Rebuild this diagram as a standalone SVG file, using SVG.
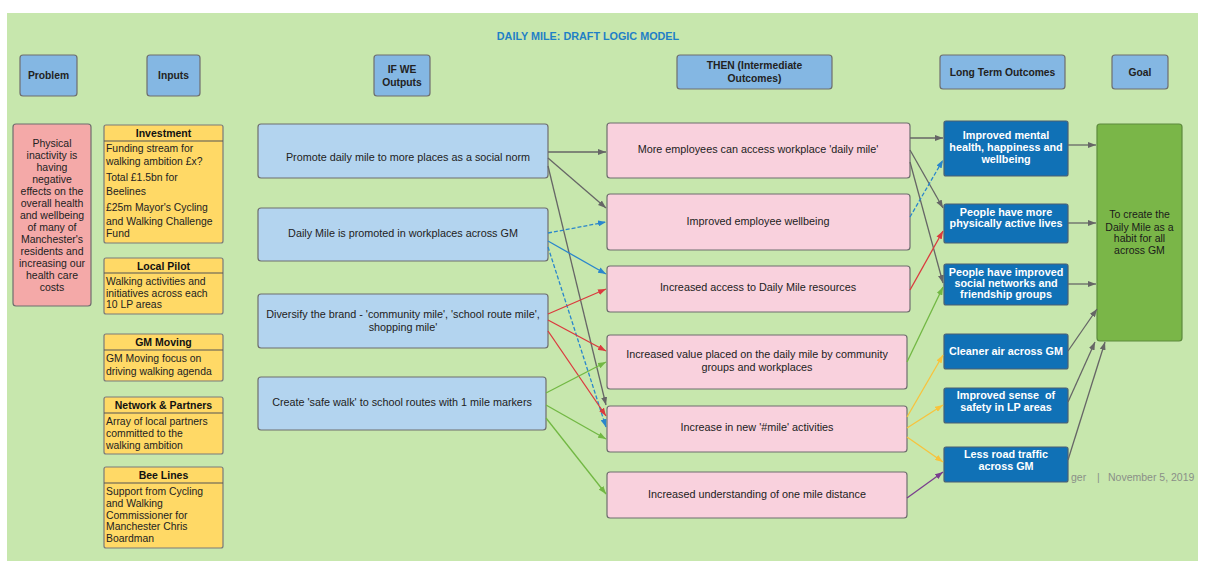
<svg xmlns="http://www.w3.org/2000/svg" width="1205" height="561" viewBox="0 0 1205 561">
<defs>
<style>
text{font-family:"Liberation Sans",Arial,sans-serif;dominant-baseline:central;}
.hdr rect{fill:#84b7e3;stroke:#6e6e6e;stroke-width:1.2;}
.hdr text{font-size:10.3px;font-weight:bold;fill:#222;text-anchor:middle;}
.inp rect{fill:#ffd966;stroke:#7a7a7a;stroke-width:1.2;}
.inp line{stroke:#555;stroke-width:1.2;}
.inp .h{font-size:10.5px;font-weight:bold;fill:#111;text-anchor:middle;}
.inp .b{font-size:10.4px;fill:#222;}
.out rect{fill:#b3d4ef;stroke:#6e6e6e;stroke-width:1.2;}
.mid rect{fill:#f9d1dd;stroke:#6e6e6e;stroke-width:1.2;}
.out text,.mid text{font-size:10.8px;fill:#222;text-anchor:middle;}
.lt rect{fill:#1071b6;stroke:#4a5f73;stroke-width:1.2;}
.lt text{font-size:10.8px;font-weight:bold;fill:#fff;text-anchor:middle;}
.c line{fill:none;stroke-width:1.3;}
.g{stroke:#666;}
.bl{stroke:#2a86cc;}
.rd{stroke:#db3a3e;}
.gr{stroke:#72b843;}
.yl{stroke:#f8c33c;}
.pu{stroke:#7a3e8e;}
.d{stroke-dasharray:4 2;}
</style>
<marker id="ag" markerUnits="userSpaceOnUse" markerWidth="8" markerHeight="6" refX="8" refY="3" orient="auto"><path d="M0,0 L8,3 L0,6 z" fill="#666"/></marker>
<marker id="ab" markerUnits="userSpaceOnUse" markerWidth="8" markerHeight="6" refX="8" refY="3" orient="auto"><path d="M0,0 L8,3 L0,6 z" fill="#2a86cc"/></marker>
<marker id="ar" markerUnits="userSpaceOnUse" markerWidth="8" markerHeight="6" refX="8" refY="3" orient="auto"><path d="M0,0 L8,3 L0,6 z" fill="#db3a3e"/></marker>
<marker id="agr" markerUnits="userSpaceOnUse" markerWidth="8" markerHeight="6" refX="8" refY="3" orient="auto"><path d="M0,0 L8,3 L0,6 z" fill="#72b843"/></marker>
<marker id="ay" markerUnits="userSpaceOnUse" markerWidth="8" markerHeight="6" refX="8" refY="3" orient="auto"><path d="M0,0 L8,3 L0,6 z" fill="#f8c33c"/></marker>
<marker id="ap" markerUnits="userSpaceOnUse" markerWidth="8" markerHeight="6" refX="8" refY="3" orient="auto"><path d="M0,0 L8,3 L0,6 z" fill="#7a3e8e"/></marker>
</defs>
<rect x="0" y="0" width="1205" height="561" fill="#fff"/>
<rect x="7" y="13" width="1191" height="548" fill="#c7e7ad"/>
<text x="588" y="36" text-anchor="middle" font-size="10.8" font-weight="bold" fill="#1f80c6">DAILY MILE: DRAFT LOGIC MODEL</text>

<g id="hdr-problem" class="hdr"><rect x="20" y="55" width="57" height="41" rx="3"/><text x="48.5" y="75.5">Problem</text></g>
<g id="hdr-inputs" class="hdr"><rect x="147" y="55" width="53" height="41" rx="3"/><text x="173.5" y="75.5">Inputs</text></g>
<g id="hdr-outputs" class="hdr"><rect x="374" y="55" width="56" height="41" rx="3"/><text x="402" y="69">IF WE</text><text x="402" y="82">Outputs</text></g>
<g id="hdr-then" class="hdr"><rect x="677" y="55" width="155" height="34" rx="3"/><text x="754.5" y="65">THEN (Intermediate</text><text x="754.5" y="78">Outcomes)</text></g>
<g id="hdr-long" class="hdr"><rect x="940" y="55" width="125" height="34" rx="3"/><text x="1002.5" y="72">Long Term Outcomes</text></g>
<g id="hdr-goal" class="hdr"><rect x="1112" y="55" width="56" height="34" rx="3"/><text x="1140" y="72">Goal</text></g>

<g id="problem"><rect x="13" y="124" width="78" height="182" rx="3" fill="#f4a9a8" stroke="#6e6e6e" stroke-width="1.2"/>
<text font-size="10.5" fill="#222" text-anchor="middle"><tspan x="52" y="143">Physical</tspan><tspan x="52" y="155">inactivity is</tspan><tspan x="52" y="167">having</tspan><tspan x="52" y="179">negative</tspan><tspan x="52" y="191">effects on the</tspan><tspan x="52" y="203">overall health</tspan><tspan x="52" y="215">and wellbeing</tspan><tspan x="52" y="227">of many of</tspan><tspan x="52" y="239">Manchester's</tspan><tspan x="52" y="251">residents and</tspan><tspan x="52" y="263">increasing our</tspan><tspan x="52" y="275">health care</tspan><tspan x="52" y="287">costs</tspan></text></g>

<g id="in-investment" class="inp"><rect x="104" y="125" width="119" height="118" rx="2"/><line x1="104" y1="141" x2="223" y2="141"/><text class="h" x="163.5" y="133">Investment</text>
<text class="b"><tspan x="106" y="148">Funding stream for</tspan><tspan x="106" y="161">walking ambition £x?</tspan><tspan x="106" y="177">Total £1.5bn for</tspan><tspan x="106" y="191">Beelines</tspan><tspan x="106" y="207">£25m Mayor's Cycling</tspan><tspan x="106" y="221">and Walking Challenge</tspan><tspan x="106" y="233">Fund</tspan></text></g>
<g id="in-pilot" class="inp"><rect x="104" y="258" width="119" height="56" rx="2"/><line x1="104" y1="273" x2="223" y2="273"/><text class="h" x="163.5" y="265.5">Local Pilot</text>
<text class="b"><tspan x="106" y="281">Walking activities and</tspan><tspan x="106" y="292.5">initiatives across each</tspan><tspan x="106" y="304">10 LP areas</tspan></text></g>
<g id="in-gmmoving" class="inp"><rect x="104" y="334" width="119" height="47" rx="2"/><line x1="104" y1="350" x2="223" y2="350"/><text class="h" x="163.5" y="342">GM Moving</text>
<text class="b"><tspan x="106" y="358">GM Moving focus on</tspan><tspan x="106" y="371">driving walking agenda</tspan></text></g>
<g id="in-network" class="inp"><rect x="104" y="397" width="119" height="57" rx="2"/><line x1="104" y1="413" x2="223" y2="413"/><text class="h" x="163.5" y="405">Network &amp; Partners</text>
<text class="b"><tspan x="106" y="421">Array of local partners</tspan><tspan x="106" y="433">committed to the</tspan><tspan x="106" y="445">walking ambition</tspan></text></g>
<g id="in-beelines" class="inp"><rect x="104" y="467" width="119" height="81" rx="2"/><line x1="104" y1="483" x2="223" y2="483"/><text class="h" x="163.5" y="475">Bee Lines</text>
<text class="b"><tspan x="106" y="491">Support from Cycling</tspan><tspan x="106" y="503">and Walking</tspan><tspan x="106" y="514.5">Commissioner for</tspan><tspan x="106" y="526">Manchester Chris</tspan><tspan x="106" y="538">Boardman</tspan></text></g>

<g id="out1" class="out"><rect x="258" y="124" width="290" height="54" rx="3"/><text x="408" y="157">Promote daily mile to more places as a social norm</text></g>
<g id="out2" class="out"><rect x="258" y="208" width="290" height="53" rx="3"/><text x="403" y="233">Daily Mile is promoted in workplaces across GM</text></g>
<g id="out3" class="out"><rect x="258" y="294" width="290" height="54" rx="3"/><text x="403" y="314">Diversify the brand - 'community mile', 'school route mile',</text><text x="403" y="327">shopping mile'</text></g>
<g id="out4" class="out"><rect x="258" y="377" width="288" height="53" rx="3"/><text x="402" y="402">Create 'safe walk' to school routes with 1 mile markers</text></g>

<g id="mid1" class="mid"><rect x="607" y="123" width="303" height="55" rx="3"/><text x="758" y="149">More employees can access workplace 'daily mile'</text></g>
<g id="mid2" class="mid"><rect x="607" y="194" width="303" height="56" rx="3"/><text x="758" y="221">Improved employee wellbeing</text></g>
<g id="mid3" class="mid"><rect x="607" y="266" width="303" height="46" rx="3"/><text x="758" y="287">Increased access to Daily Mile resources</text></g>
<g id="mid4" class="mid"><rect x="607" y="335" width="300" height="54" rx="3"/><text x="757" y="354">Increased value placed on the daily mile by community</text><text x="757" y="367">groups and workplaces</text></g>
<g id="mid5" class="mid"><rect x="607" y="406" width="300" height="46" rx="3"/><text x="757" y="427">Increase in new '#mile' activities</text></g>
<g id="mid6" class="mid"><rect x="607" y="472" width="300" height="46" rx="3"/><text x="757" y="494">Increased understanding of one mile distance</text></g>

<text x="1071" y="477" font-size="10.5" fill="#8a9088">ger</text>
<text x="1097" y="477" font-size="10.5" fill="#8a9088">|</text>
<text x="1108" y="477" font-size="10.5" fill="#8a9088">November 5, 2019</text>

<g id="lt1" class="lt"><rect x="944" y="121" width="124" height="55" rx="2"/><text x="1006" y="135">Improved mental</text><text x="1006" y="147">health, happiness and</text><text x="1006" y="158.5">wellbeing</text></g>
<g id="lt2" class="lt"><rect x="944" y="204" width="124" height="39" rx="2"/><text x="1006" y="211.5">People have more</text><text x="1006" y="223">physically active lives</text></g>
<g id="lt3" class="lt"><rect x="944" y="264" width="124" height="41" rx="2"/><text x="1006" y="272">People have improved</text><text x="1006" y="283">social networks and</text><text x="1006" y="294">friendship groups</text></g>
<g id="lt4" class="lt"><rect x="944" y="334" width="124" height="35" rx="2"/><text x="1006" y="351">Cleaner air across GM</text></g>
<g id="lt5" class="lt"><rect x="944" y="388" width="124" height="35" rx="2"/><text x="1006" y="395" xml:space="preserve">Improved sense  of</text><text x="1006" y="407">safety in LP areas</text></g>
<g id="lt6" class="lt"><rect x="944" y="447" width="124" height="35" rx="2"/><text x="1006" y="454">Less road traffic</text><text x="1006" y="466">across GM</text></g>

<g id="goal"><rect x="1097" y="124" width="85" height="217" rx="3" fill="#7ab648" stroke="#5c8a3c" stroke-width="1.2"/>
<text font-size="10.5" fill="#1a1a1a" text-anchor="middle"><tspan x="1139.5" y="214">To create the</tspan><tspan x="1139.5" y="226.5">Daily Mile as a</tspan><tspan x="1139.5" y="238">habit for all</tspan><tspan x="1139.5" y="250">across GM</tspan></text></g>

<g id="connectors" class="c">
<line class="g" x1="548" y1="152" x2="606" y2="152" marker-end="url(#ag)"/>
<line class="g" x1="548" y1="158" x2="606" y2="208" marker-end="url(#ag)"/>
<line class="g" x1="548" y1="166" x2="606" y2="405" marker-end="url(#ag)"/>
<line class="bl d" x1="548" y1="233" x2="606" y2="222" marker-end="url(#ab)"/>
<line class="bl" x1="548" y1="241" x2="606" y2="274" stroke-width="1.8" marker-end="url(#ab)"/>
<line class="bl d" x1="548" y1="247" x2="606" y2="427" marker-end="url(#ab)"/>
<line class="rd" x1="548" y1="314" x2="606" y2="289" marker-end="url(#ar)"/>
<line class="rd" x1="548" y1="320" x2="606" y2="351" marker-end="url(#ar)"/>
<line class="rd" x1="548" y1="331" x2="606" y2="416" marker-end="url(#ar)"/>
<line class="gr" x1="546" y1="393" x2="606" y2="362" marker-end="url(#agr)"/>
<line class="gr" x1="546" y1="405" x2="606" y2="439" marker-end="url(#agr)"/>
<line class="gr" x1="546" y1="418" x2="606" y2="494" marker-end="url(#agr)"/>
<line class="g" x1="910" y1="138" x2="943" y2="138" marker-end="url(#ag)"/>
<line class="g" x1="910" y1="150" x2="943" y2="208" marker-end="url(#ag)"/>
<line class="g" x1="910" y1="162" x2="943" y2="283" marker-end="url(#ag)"/>
<line class="bl d" x1="910" y1="217" x2="943" y2="160" marker-end="url(#ab)"/>
<line class="rd" x1="910" y1="290" x2="943" y2="231" marker-end="url(#ar)"/>
<line class="gr" x1="907" y1="362" x2="943" y2="287" marker-end="url(#agr)"/>
<line class="yl" x1="907" y1="417" x2="943" y2="355" marker-end="url(#ay)"/>
<line class="yl" x1="907" y1="428" x2="943" y2="405" marker-end="url(#ay)"/>
<line class="yl" x1="907" y1="437" x2="943" y2="462" marker-end="url(#ay)"/>
<line class="pu" x1="907" y1="498" x2="943" y2="472" marker-end="url(#ap)"/>
<line class="g" x1="1068" y1="145" x2="1096" y2="145" marker-end="url(#ag)"/>
<line class="g" x1="1068" y1="223" x2="1096" y2="223" marker-end="url(#ag)"/>
<line class="g" x1="1068" y1="284" x2="1096" y2="284" marker-end="url(#ag)"/>
<line class="g" x1="1068" y1="351" x2="1097" y2="309" marker-end="url(#ag)"/>
<line class="g" x1="1068" y1="402" x2="1095" y2="342" marker-end="url(#ag)"/>
<line class="g" x1="1068" y1="460" x2="1105" y2="342" marker-end="url(#ag)"/>
</g>
</svg>
